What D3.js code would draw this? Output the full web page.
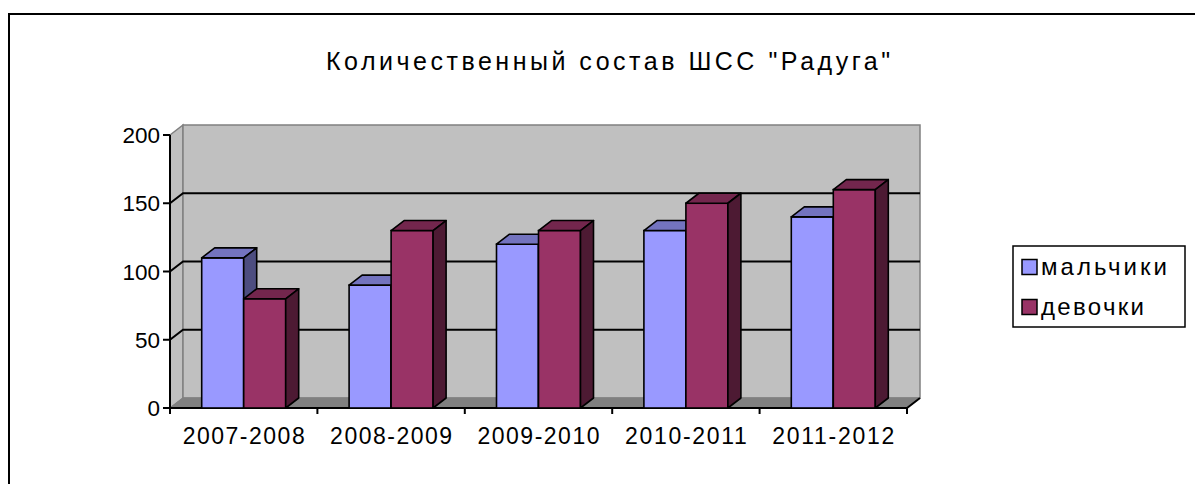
<!DOCTYPE html>
<html>
<head>
<meta charset="utf-8">
<script src="https://cdn.jsdelivr.net/npm/d3@7"></script>
<style>
  body { margin: 0; background: #fff; }
  text { font-family: Arial, 'Liberation Sans', sans-serif; fill: #000; }
</style>
</head>
<body>
<div id="chart"></div>
<script>
// data
const years = ['2007-2008', '2008-2009', '2009-2010', '2010-2011', '2011-2012'];
const seriesNames = ['мальчики', 'девочки'];
const boys = [110, 90, 120, 130, 140];
const girls = [80, 130, 130, 150, 160];
const yTicks = [0, 50, 100, 150, 200];
const titleText = 'Количественный состав ШСС "Радуга"';

const width = 1195;
const height = 484;
const colors = ['#9999ff', '#993366'];
const dx = 13, dy = -10;   // depth of the 3d box

let x = d3.scaleBand()
    .domain(years)
    .range([170, 907]);

let xs = d3.scaleBand()
    .domain(seriesNames)
    .range([31.7, 115.7]);

let y = d3.scaleLinear()
    .domain([0, 200])
    .range([408, 135]);

const svg = d3.select('#chart')
    .append('svg')
    .attr('width', width)
    .attr('height', height);

// outer frame
svg.append('rect')
    .attr('x', 9).attr('y', 14)
    .attr('width', 1200).attr('height', 500)
    .attr('fill', 'none')
    .attr('stroke', '#000')
    .attr('stroke-width', 2);

const x0 = x.range()[0], x1 = x.range()[1];
const y0 = y(0), yTop = y(200);

// walls and floor
svg.append('polygon')
    .attr('points', [[x0, yTop], [x0 + dx, yTop + dy], [x0 + dx, y0 + dy], [x0, y0]].join(' '))
    .attr('fill', '#c0c0c0').attr('stroke', '#808080').attr('stroke-width', 1.5);
svg.append('rect')
    .attr('x', x0 + dx).attr('y', yTop + dy)
    .attr('width', x1 - x0).attr('height', y0 - yTop)
    .attr('fill', '#c0c0c0').attr('stroke', '#808080').attr('stroke-width', 1.5);
svg.append('polygon')
    .attr('points', [[x0, y0], [x0 + dx, y0 + dy], [x1 + dx, y0 + dy], [x1, y0]].join(' '))
    .attr('fill', '#808080').attr('stroke', '#808080').attr('stroke-width', 1);

// gridlines
const grid = yTicks.filter(t => t > 0 && t < 200);
svg.selectAll('.grid')
    .data(grid).enter()
    .append('polyline')
    .attr('points', d => [[x0, y(d)], [x0 + dx, y(d) + dy], [x1 + dx, y(d) + dy]].join(' '))
    .attr('fill', 'none')
    .attr('stroke', '#000')
    .attr('stroke-width', 2);

// front base line with right diagonal
svg.append('polyline')
    .attr('points', [[x0, y0], [x1, y0], [x1 + dx, y0 + dy]].join(' '))
    .attr('fill', 'none').attr('stroke', '#000').attr('stroke-width', 2);

// y axis
svg.append('line')
    .attr('x1', x0).attr('x2', x0)
    .attr('y1', yTop).attr('y2', y0 + 1)
    .attr('stroke', '#000').attr('stroke-width', 2);
svg.selectAll('.ytick')
    .data(yTicks).enter()
    .append('line')
    .attr('x1', x0 - 7).attr('x2', x0)
    .attr('y1', d => y(d)).attr('y2', d => y(d))
    .attr('stroke', '#000').attr('stroke-width', 2);
svg.selectAll('.ylabel')
    .data(yTicks).enter()
    .append('text')
    .attr('x', x0 - 10)
    .attr('y', d => y(d) + 8)
    .attr('text-anchor', 'end')
    .attr('font-size', 22.5)
    .text(d => d);

// x ticks
const bounds = years.map(c => x(c)).concat([x1]);
svg.selectAll('.xtick')
    .data(bounds).enter()
    .append('line')
    .attr('x1', d => d).attr('x2', d => d)
    .attr('y1', y0).attr('y2', y0 + 6)
    .attr('stroke', '#000').attr('stroke-width', 2);
svg.selectAll('.xlabel')
    .data(years).enter()
    .append('text')
    .attr('x', d => x(d) + x.bandwidth() / 2 - 61)
    .attr('y', 444)
    .attr('font-size', 23)
    .attr('textLength', 122)
    .attr('lengthAdjust', 'spacing')
    .text(d => d);

// bars
const shade = (c, k) => {
    let r = d3.rgb(c);
    return d3.rgb(r.r * k, r.g * k, r.b * k);
};
const barData = [];
years.forEach((yr, i) => {
    [boys, girls].forEach((vals, s) => {
        barData.push({ year: yr, series: seriesNames[s], value: vals[i], color: colors[s] });
    });
});
const bw = xs.bandwidth();
const bars = svg.selectAll('.bar')
    .data(barData).enter()
    .append('g')
    .attr('class', 'bar');
bars.append('rect')
    .attr('x', d => x(d.year) + xs(d.series))
    .attr('y', d => y(d.value))
    .attr('width', bw)
    .attr('height', d => y0 - y(d.value))
    .attr('fill', d => d.color)
    .attr('stroke', '#000').attr('stroke-width', 1.6);
bars.append('polygon')
    .attr('points', d => {
        let bx = x(d.year) + xs(d.series), by = y(d.value);
        return [[bx, by], [bx + dx, by + dy], [bx + bw + dx, by + dy], [bx + bw, by]].join(' ');
    })
    .attr('fill', d => shade(d.color, 0.75))
    .attr('stroke', '#000').attr('stroke-width', 1.6).attr('stroke-linejoin', 'round');
bars.append('polygon')
    .attr('points', d => {
        let bx = x(d.year) + xs(d.series) + bw, by = y(d.value);
        return [[bx, by], [bx + dx, by + dy], [bx + dx, y0 + dy], [bx, y0]].join(' ');
    })
    .attr('fill', d => shade(d.color, 0.5))
    .attr('stroke', '#000').attr('stroke-width', 1.6).attr('stroke-linejoin', 'round');

// title
svg.append('text')
    .attr('x', 326)
    .attr('y', 70)
    .attr('font-size', 25)
    .attr('textLength', 564)
    .attr('lengthAdjust', 'spacing')
    .text(titleText);

// legend
const legend = svg.append('g');
legend.append('rect')
    .attr('x', 1013).attr('y', 246)
    .attr('width', 172).attr('height', 81)
    .attr('fill', '#fff')
    .attr('stroke', '#000').attr('stroke-width', 1.5);
const legWidths = [126, 103];
seriesNames.forEach((name, i) => {
    let cy = 267 + i * 40;
    legend.append('rect')
        .attr('x', 1022).attr('y', cy - 7.5)
        .attr('width', 15).attr('height', 15)
        .attr('fill', colors[i])
        .attr('stroke', '#000').attr('stroke-width', 1.5);
    legend.append('text')
        .attr('x', 1041)
        .attr('y', cy + 8)
        .attr('font-size', 24)
        .attr('textLength', legWidths[i])
        .attr('lengthAdjust', 'spacing')
        .text(name);
});
</script>
</body>
</html>
